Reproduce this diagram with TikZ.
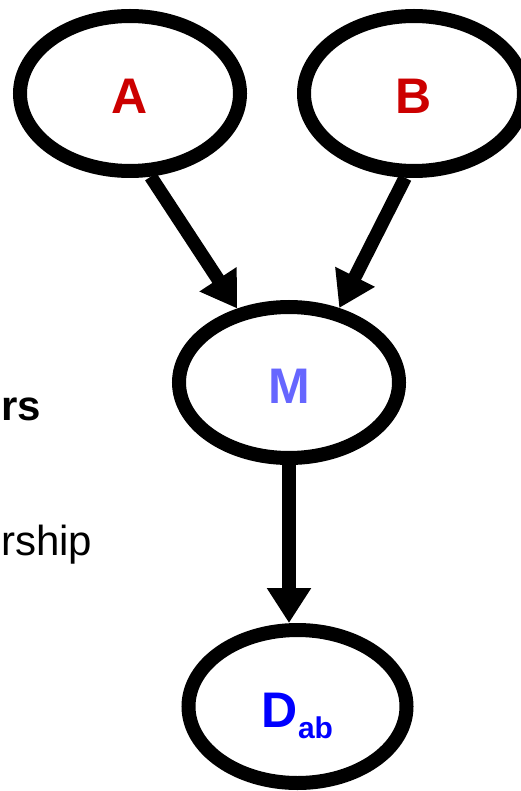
\documentclass[tikz,border=0pt]{standalone}
\usepackage{fontspec}
\setmainfont{Liberation Sans}
\usetikzlibrary{shapes.geometric,arrows.meta}
\definecolor{redA}{RGB}{204,0,0}
\definecolor{blueM}{RGB}{102,102,255}
\definecolor{blueD}{RGB}{0,0,255}
\tikzset{
  bubble/.style={ellipse, draw=black, line width=14pt, outer sep=7pt, inner sep=0pt,
    minimum width=220pt, minimum height=155pt, text height=41pt, text depth=0pt,
    font=\bfseries\fontsize{50}{50}\selectfont},
  link/.style={line width=13.5pt, -{Triangle[length=35pt,width=42pt]}},
  side/.style={anchor=base west, inner sep=0pt, font=\fontsize{42}{42}\selectfont}
}
\begin{document}
\begin{tikzpicture}[x=1pt,y=1pt]
\useasboundingbox (0,0) rectangle (521,-791);
\node[bubble, text=redA] (A) at (130,-93.5) {A};
\node[bubble, text=redA] (B) at (414,-93.5) {B};
\node[bubble, text=blueM, minimum height=151pt] (M) at (289,-382.5) {M};
\node[bubble, text=blueD, minimum width=218pt, minimum height=153pt] (D) at (297.5,-706.5)
  {D\raisebox{-11pt}{\fontsize{30}{30}\selectfont ab}};
\node[side, font=\bfseries\fontsize{42}{42}\selectfont] (t1) at (1,-420) {rs};
\node[side] (t2) at (1,-555) {rship};
\draw[link] (A.-76.5) -- (M.125.6);
\draw[link] (B.-96.2) -- (M.56.7);
\draw[link] (M.south) -- (M.south |- D.north);
\end{tikzpicture}
\end{document}
